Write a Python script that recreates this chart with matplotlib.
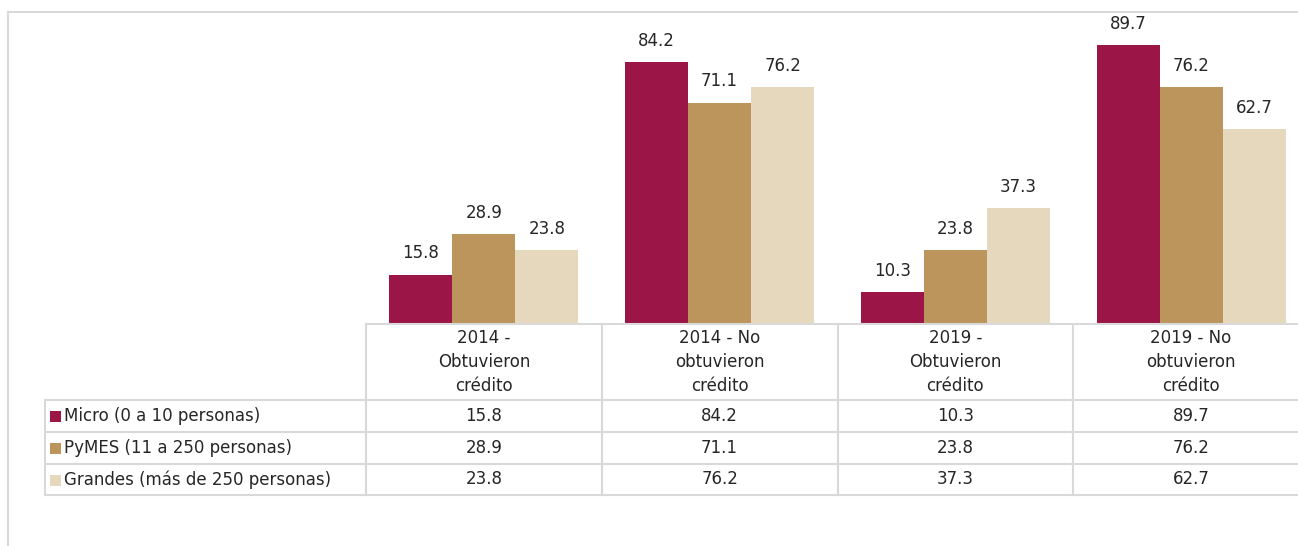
import matplotlib.pyplot as plt
from matplotlib.patches import Rectangle

# datos
categorias = ['2014 -\nObtuvieron\ncrédito', '2014 - No\nobtuvieron\ncrédito',
              '2019 -\nObtuvieron\ncrédito', '2019 - No\nobtuvieron\ncrédito']
series = ['Micro (0 a 10 personas)', 'PyMES (11 a 250 personas)', 'Grandes (más de 250 personas)']
micro = [15.8, 84.2, 10.3, 89.7]
pymes = [28.9, 71.1, 23.8, 76.2]
grandes = [23.8, 76.2, 37.3, 62.7]
colores = ['#9B1547', '#BC955C', '#E6D8BC']

plt.rcParams['font.family'] = ['DejaVu Sans']
W, H = 1298, 546
fig = plt.figure(figsize=(W / 100, H / 100), dpi=100)
fs = 12

# ejes de las barras (en pixeles de la figura)
x0, x1, ytop, ybase = 366, 1309, 13, 324
ax = fig.add_axes([x0 / W, (H - ybase) / H, (x1 - x0) / W, (ybase - ytop) / H])
ax.set_xlim(-0.5, len(categorias) - 0.5)
ax.set_ylim(0, 100)
ax.axis('off')

ancho = 0.267
valores = [micro, pymes, grandes]
for i, vals in enumerate(valores):
    pos = [k + (i - 1) * ancho for k in range(len(categorias))]
    ax.bar(pos, vals, width=ancho, color=colores[i], linewidth=0)
    for x, y in zip(pos, vals):
        ax.text(x, y + 4, '%.1f' % y, ha='center', va='bottom', fontsize=fs, color='#262626')

# capa para la tabla y bordes
ov = fig.add_axes([0, 0, 1, 1])
ov.set_xlim(0, W)
ov.set_ylim(H, 0)
ov.axis('off')
gris = '#d9d9d9'

# borde del gráfico
ov.plot([8, W], [12, 12], color=gris, lw=1.5)
ov.plot([8, 8], [12, H], color=gris, lw=1.5)

paso = (x1 - x0) / len(categorias)
filas = [324, 400, 432, 464, 495]
izq = 45
# lineas horizontales
ov.plot([x0, W], [filas[0], filas[0]], color=gris, lw=1.5)
for y in filas[1:]:
    ov.plot([izq, W], [y, y], color=gris, lw=1.5)
# lineas verticales
ov.plot([izq, izq], [filas[1], filas[-1]], color=gris, lw=1.5)
for k in range(len(categorias) + 1):
    xv = x0 + k * paso
    ov.plot([xv, xv], [filas[0], filas[-1]], color=gris, lw=1.5)

# encabezados
for k, cat in enumerate(categorias):
    ov.text(x0 + (k + 0.5) * paso, (filas[0] + filas[1]) / 2, cat, ha='center', va='center',
            fontsize=fs, color='#262626', linespacing=1.4)

# filas de la tabla
for i, (nombre, vals) in enumerate(zip(series, valores)):
    yc = (filas[i + 1] + filas[i + 2]) / 2
    ov.add_patch(Rectangle((50, yc - 5), 11, 11, color=colores[i], lw=0))
    ov.text(64, yc, nombre, ha='left', va='center', fontsize=fs, color='#262626')
    for k, v in enumerate(vals):
        ov.text(x0 + (k + 0.5) * paso, yc, '%.1f' % v, ha='center', va='center',
                fontsize=fs, color='#262626')

fig.savefig('out.png', dpi=100)
